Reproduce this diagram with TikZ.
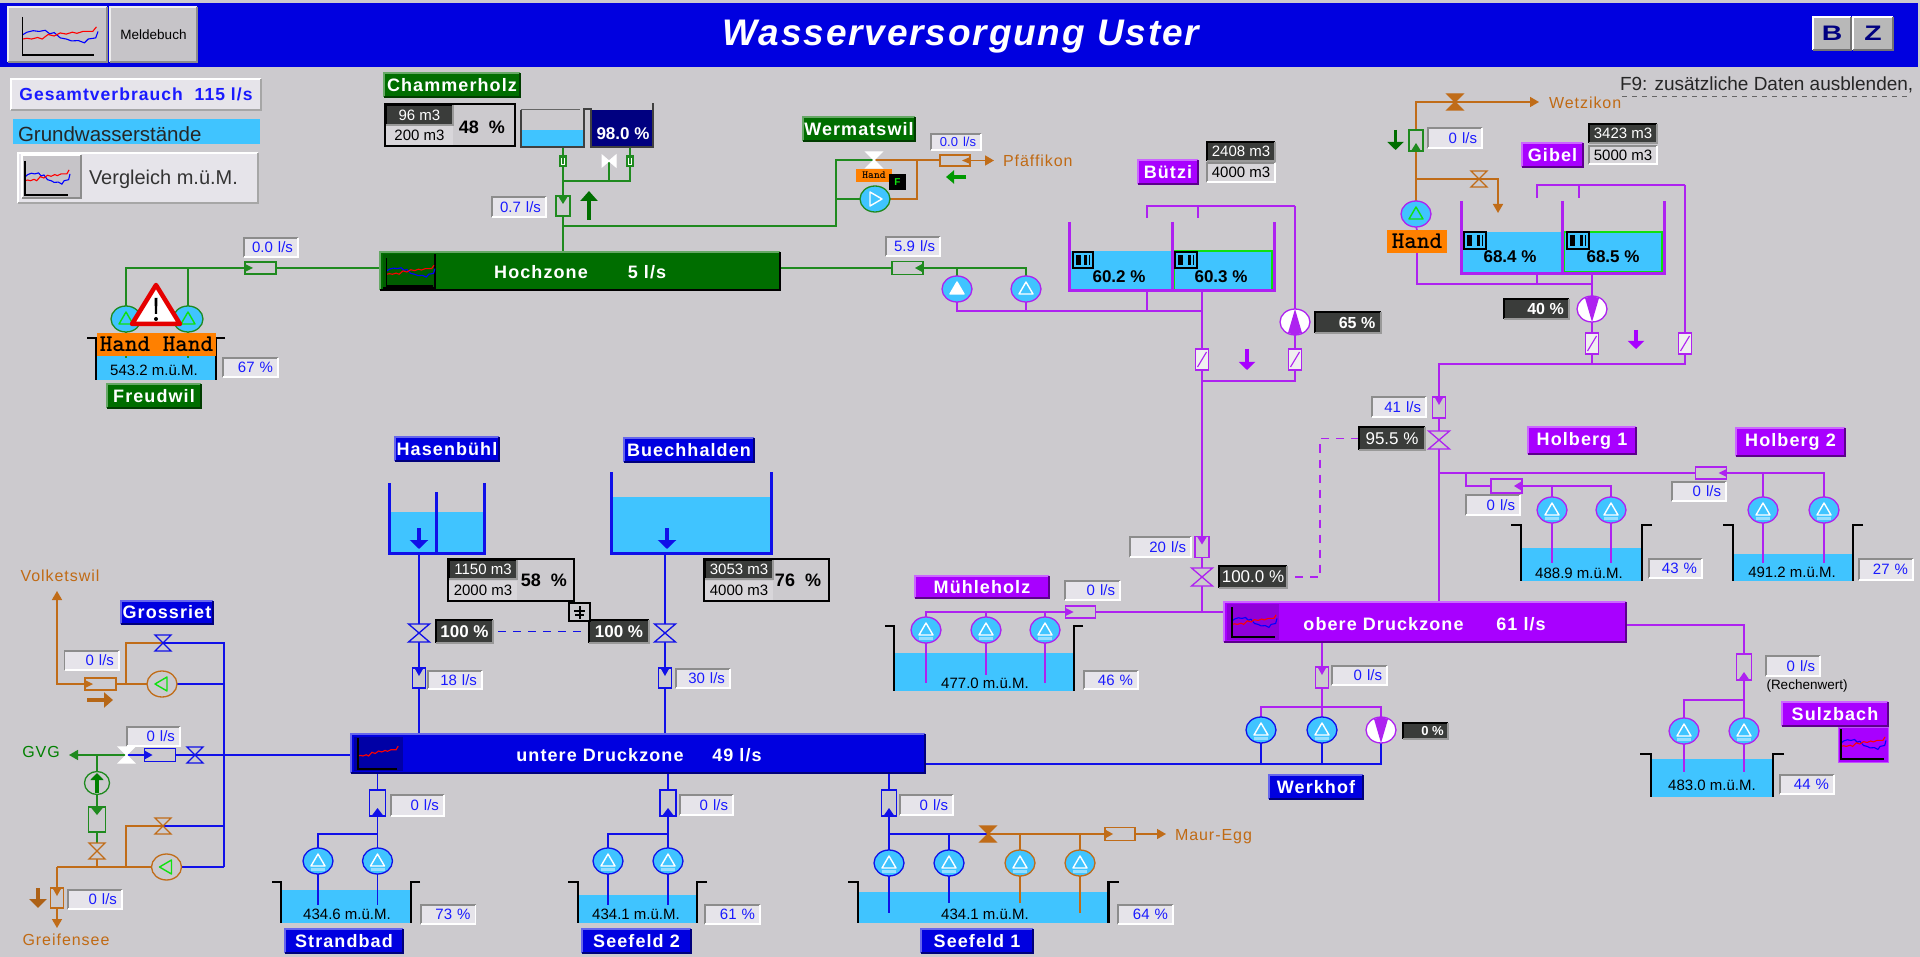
\documentclass[tikz,border=0pt]{standalone}
\usepackage{fontspec}
\usepackage{graphicx}
\setmainfont{Liberation Sans}
\newfontfamily\lspaced[LetterSpace=6]{Liberation Sans}
\newfontfamily\titlef[LetterSpace=5]{Liberation Sans}
\usetikzlibrary{shapes.geometric,arrows.meta}
\pgfdeclarelayer{water}\pgfdeclarelayer{pipes}
\pgfsetlayers{water,pipes,main}
\definecolor{bgc}{HTML}{CCCACE}
\definecolor{hblue}{HTML}{0000E0}
\definecolor{hgreen}{HTML}{006E00}
\definecolor{hpurple}{HTML}{A800FF}
\definecolor{gpipe}{HTML}{1F8A1F}
\definecolor{ppipe}{HTML}{AE22F0}
\definecolor{bpipe}{HTML}{1010E8}
\definecolor{opipe}{HTML}{C06C18}
\definecolor{wat}{HTML}{40C4FF}
\definecolor{darkb}{HTML}{3A3C3A}
\definecolor{litem}{HTML}{E6E4EA}
\definecolor{softm}{HTML}{D8D6DA}
\definecolor{vblue}{HTML}{1A1AFF}
\definecolor{navyc}{HTML}{000080}
\definecolor{oran}{HTML}{FF8000}
\definecolor{btn}{HTML}{C6C4C8}
\definecolor{limeb}{HTML}{10E010}
\definecolor{brtxt}{HTML}{C06A14}
\newcommand\fz[1]{\fontsize{#1pt}{#1pt}\selectfont}
\tikzset{
 base/.style={rectangle,inner sep=0pt,outer sep=0pt,align=center},
 txt/.style={inner sep=0pt,outer sep=0pt},
 pipeln/.style={line width=1.6pt,line join=miter},
 pg/.style={pipeln,draw=gpipe},
 pp/.style={pipeln,draw=ppipe},
 pb/.style={pipeln,draw=bpipe},
 po/.style={pipeln,draw=opipe},
 tipo/.style={-{Triangle[length=9pt,width=10pt]}},
 tankt/.style={txt,font=\fz{15},text=black},
 pct/.style={txt,font=\bfseries\fz{17},text=black},
 barlab/.style={txt,font=\lspaced\bfseries\fz{18},text=white},
 brown/.style={txt,font=\lspaced\fz{16},text=brtxt},
 handf/.style={font=\ttfamily\bfseries\fz{24},text=black},
 blockarrow/.style={line width=4.5pt,-{Triangle[length=10pt,width=17pt]}},
}
% name x1 y1 x2 y2 opts text
\newcommand\mkbox[7]{%
 \pgfmathsetmacro\mkw{#4-#2}\pgfmathsetmacro\mkh{#5-#3}%
 \node[base,#6,minimum width=\mkw pt,minimum height=\mkh pt] (#1) at ({(#2+#4)/2},{(#3+#5)/2}) {#7};}
\newcommand\bev[3]{%
 \draw[line width=1.2pt,#2] (#1.south west) |- (#1.north east);
 \draw[line width=1.2pt,#3] (#1.south west) -| (#1.north east);}
% value box (blue text, right aligned)
\newcommand\mkval[6]{%
 \pgfmathsetmacro\mkt{#4-#2-10}\pgfmathsetmacro\mkh{#5-#3}%
 \node[rectangle,outer sep=0pt,inner ysep=0pt,inner xsep=5pt,fill=litem,text=vblue,font=\fz{15},align=right,text width=\mkt pt,minimum height=\mkh pt] (#1) at ({(#2+#4)/2},{(#3+#5)/2}) {#6};
 \bev{#1}{draw=black!45}{draw=white}}
% label
\newcommand\labt[8]{%
 \mkbox{#1}{#2}{#3}{#4}{#5}{fill=#6,text=white,font=\lspaced\bfseries\fz{18}}{#7}
 \bev{#1}{draw=#6!60!white}{draw=#6!55!black}}
% dark box
\newcommand\mkdark[7]{%
 \mkbox{#1}{#2}{#3}{#4}{#5}{fill=darkb,text=white,#6}{#7}
 \bev{#1}{draw=black}{draw=black!40}}
% pump: name x y outline fill tridraw trifill rot
\newcommand\mkpump[8]{%
 \node[ellipse,draw=#4,fill=#5,line width=1.3pt,minimum width=30pt,minimum height=26pt,inner sep=0pt,outer sep=0pt] (#1) at (#2,#3) {};
 \begin{scope}[shift={(#2,#3)},rotate=#8]
 \draw[#6,fill=#7,line width=1.4pt,line join=round] (-7,5) -- (0,-7) -- (7,5) -- cycle;
 \end{scope}}
\newcommand\cpump[4]{\mkpump{#1}{#2}{#3}{#4}{wat}{white}{wat}{0}
 \draw[white!45!wat,line width=2.2pt] ({#2-7},{#3+8.5}) -- ({#2+7},{#3+8.5});}
\newcommand\vfd[5]{%
 \node[ellipse,draw=#4,fill=white,line width=1.3pt,minimum width=30pt,minimum height=26pt,inner sep=0pt,outer sep=0pt] (#1) at (#2,#3) {};
 \begin{scope}[shift={(#2,#3)},rotate=#5]
 \fill[#4] (-7,11) -- (0,-13) -- (7,11) -- (0,13) -- cycle;
 \end{scope}}
% valve: name x y stroke fill
\newcommand\mkvalve[5]{%
 \coordinate (#1) at (#2,#3);
 \begin{scope}[shift={(#2,#3)}]
 \draw[#4,fill=#5,line width=1.3pt,line join=miter] (-8,-8) -- (8,-8) -- (-8,8) -- (8,8) -- cycle;
 \end{scope}}
\newcommand\bigvalve[5]{%
 \coordinate (#1) at (#2,#3);
 \begin{scope}[shift={(#2,#3)}]
 \draw[#4,fill=#5,line width=1.3pt,line join=miter] (-10.5,-9) -- (10.5,-9) -- (-10.5,9) -- (10.5,9) -- cycle;
 \end{scope}}
% flow meter tips
\newcommand\tipL[2]{\fill[#2] ([yshift=-2pt]#1.north west) -- ([xshift=8pt]#1.west) -- ([yshift=2pt]#1.south west) -- cycle;}
\newcommand\tipR[2]{\fill[#2] ([yshift=-2pt]#1.north east) -- ([xshift=-8pt]#1.east) -- ([yshift=2pt]#1.south east) -- cycle;}
\newcommand\tipT[2]{\fill[#2] ([xshift=2pt]#1.north west) -- ([yshift=-8pt]#1.north) -- ([xshift=-2pt]#1.north east) -- cycle;}
\newcommand\tipB[2]{\fill[#2] ([xshift=2pt]#1.south west) -- ([yshift=8pt]#1.south) -- ([xshift=-2pt]#1.south east) -- cycle;}
\newcommand\tipS[2]{\fill[white!70!bgc] (#1.north west) rectangle (#1.south east);\draw[#2,line width=1.2pt] (#1.north west) rectangle (#1.south east);\draw[#2,line width=1.1pt] ([xshift=2pt,yshift=3pt]#1.south west) -- ([xshift=-2pt,yshift=-3pt]#1.north east);}
\newcommand\tipG[2]{\fill[#2] (#1.north west) rectangle (#1.south east);\draw[white,line width=.8pt] ([xshift=-1.5pt,yshift=-2pt]#1.north) -- ([xshift=-1.5pt,yshift=2pt]#1.south) -- ([xshift=1.5pt,yshift=2pt]#1.south) -- ([xshift=1.5pt,yshift=-2pt]#1.north);}
% name cx cy w h col tip
\newcommand\mkfm[7]{%
 \node[rectangle,draw=#6,fill=bgc,line width=1.3pt,minimum width=#4pt,minimum height=#5pt,inner sep=0pt,outer sep=0pt] (#1) at (#2,#3) {};
 \csname tip#7\endcsname{#1}{#6}}
% well tank: name xL xR yTop yBot yWater hook
\newcommand\mktank[7]{%
 \begin{pgfonlayer}{water}
 \fill[wat] (#2,#6) rectangle (#3,#5);
 \end{pgfonlayer}
 \coordinate (#1) at ({(#2+#3)/2},#5);
 \draw[black,line width=2.8pt,line join=miter] ({#2-#7},#4) -- (#2,#4) -- (#2,#5);
 \draw[black,line width=2.8pt,line join=miter] ({#3+#7},#4) -- (#3,#4) -- (#3,#5);}
% chart inside rectangle
\newcommand\mkchart[5]{%
 \pgfmathsetmacro\chw{#3-#1}\pgfmathsetmacro\chh{#4-#2}%
 \begin{scope}[shift={(#1,#2)},x=\chw pt,y=-\chh pt]
 \ifnum#5=1
 \draw[blue,line width=1.1pt] (0,.47) -- (.06,.40) -- (.14,.36) -- (.22,.38) -- (.3,.35) -- (.36,.44) -- (.42,.41) -- (.5,.55) -- (.58,.58) -- (.65,.63) -- (.74,.62) -- (.82,.68) -- (.87,.58) -- (.97,.55) -- (1,.38);
 \fi
 \draw[red,line width=1.1pt] (0,.58) -- (.06,.56) -- (.12,.58) -- (.2,.54) -- (.26,.58) -- (.34,.46) -- (.42,.50) -- (.5,.42) -- (.58,.45) -- (.66,.40) -- (.72,.43) -- (.8,.38) -- (.93,.38) -- (.98,.26);
 \draw[black,line width=1.3pt] (0,0) -- (0,1) -- (.95,1);
 \end{scope}}
% small level icon
\newcommand\mkicon[5]{%
 \mkbox{#1}{#2}{#3}{#4}{#5}{draw=black,line width=1.1pt,fill=wat}{}
 \fill[black] ([xshift=3pt,yshift=-3pt]#1.north west) rectangle ([xshift=8pt,yshift=3pt]#1.south west);
 \fill[black] ([xshift=-9pt,yshift=-3pt]#1.north east) rectangle ([xshift=-6pt,yshift=3pt]#1.south east);
 \fill[black] ([xshift=-4.5pt,yshift=-3pt]#1.north east) rectangle ([xshift=-3pt,yshift=3pt]#1.south east);}
\begin{document}
\begin{tikzpicture}[x=1pt,y=-1pt]
\useasboundingbox (0,0) rectangle (1920,957);
\begin{pgfonlayer}{water}
\fill[bgc] (0,0) rectangle (1920,957);
\end{pgfonlayer}
% ---------- header
\mkbox{hdr}{0}{3}{1918}{67}{fill=hblue}{}
\node[txt,text=white,font=\titlef\bfseries\itshape\fz{37}] (title) at (961,37) {Wasserversorgung Uster};
\mkbox{btnA}{8}{7}{107}{62}{fill=btn}{}
\bev{btnA}{draw=white!70!btn}{draw=black!45}
\mkchart{22.5}{17}{98}{55}{1}
\mkbox{btnB}{110}{7}{197}{62}{fill=btn,font=\fz{13.5}}{Meldebuch}
\bev{btnB}{draw=white!70!btn}{draw=black!45}
\mkbox{btnC}{1813}{17}{1851}{50}{fill=black!28!white,text=navyc,font=\bfseries\fz{21}}{\scalebox{1.35}[1]{B}}
\bev{btnC}{draw=white}{draw=black!55}
\mkbox{btnD}{1853}{17}{1893}{50}{fill=black!28!white,text=navyc,font=\bfseries\fz{21}}{\scalebox{1.35}[1]{Z}}
\bev{btnD}{draw=white}{draw=black!55}
\node[txt,anchor=west,font=\fz{19},text=black!85] (f9) at (1620,85) {F9: zusätzliche Daten ausblenden,};
\draw[black!60,line width=.8pt,dash pattern=on 5pt off 5pt] (1622,96) -- (1910,96);
% ---------- left panel
\mkbox{gesamt}{11}{79}{261}{110}{fill=litem,text=vblue,font=\lspaced\bfseries\fz{17.5}}{Gesamtverbrauch\ \ 115 l/s}
\bev{gesamt}{draw=white}{draw=black!35}
\mkbox{grund}{13}{119}{260}{144}{fill=wat}{}
\node[txt,anchor=west,font=\fz{20.5},text=black!85] (grundt) at (18,134) {Grundwasserstände};
\mkbox{vergl}{18}{153}{258}{203}{fill=litem}{}
\bev{vergl}{draw=white}{draw=black!35}
\mkbox{verglb}{22}{155}{81}{198}{fill=btn}{}
\bev{verglb}{draw=white}{draw=black!45}
\mkchart{25}{161}{70}{195}{1}
\node[txt,anchor=west,font=\fz{20},text=black!80] (verglt) at (89,179) {Vergleich m.ü.M.};
% ---------- Hochzone bar
\mkbox{hoch}{380}{252}{780}{290}{fill=hgreen}{}
\bev{hoch}{draw=hgreen!60!white}{draw=black}
\mkbox{hochic}{383}{254}{435}{288}{fill=hgreen!85!black}{}
\draw[black,line width=1.2pt] (hochic.south west) -| (hochic.north east);
\mkchart{386.5}{258}{435}{286}{1}
\node[barlab] (hocht) at (541,272) {Hochzone};
\node[barlab] (hochq) at (647,272) {5 l/s};
% ---------- Freudwil
\mkfm{fmFr}{260.5}{268}{31}{12}{gpipe}{L}
\mkval{vFr}{244}{238}{298}{257}{0.0 l/s}
\mkpump{frP1}{126}{319}{gpipe}{wat}{limeb}{wat}{0}
\mkpump{frP2}{188}{319}{gpipe}{wat}{limeb}{wat}{0}
\draw[red!90!black,fill=white,line width=4.5pt,line join=round] (156,285) -- (132,324) -- (180,324) -- cycle;
\fill[black] (154.5,298) -- (157.5,298) -- (157,314) -- (155,314) -- cycle;
\fill[black] (156,319) circle[radius=2];
\mktank{tFr}{96}{216}{338}{380}{356}{9}
\mkbox{frHand}{97}{333}{216}{356}{fill=oran,handf}{Hand Hand}
\node[tankt] (frT) at (154,370) {543.2 m.ü.M.};
\mkval{vFrP}{223}{358}{278}{377}{67 \%}
\labt{frL}{107}{384}{201}{408}{hgreen}{Freudwil}{}
\coordinate (frE) at (0,358);
% ---------- Chammerholz
\labt{chL}{384}{73}{520}{97}{hgreen}{Chammerholz}{}
\mkbox{chI}{385}{104}{515}{146}{draw=black,line width=1.2pt}{}
\mkdark{chI1}{386}{105}{453}{125}{font=\fz{15}}{96 m3}
\mkbox{chI2}{386}{126}{453}{145}{fill=softm,font=\fz{15}}{200 m3}
\node[txt,font=\bfseries\fz{18}] (chP) at (482,127) {48\ \ \%};
\begin{pgfonlayer}{water}
\fill[wat] (521,130) rectangle (583,147);
\end{pgfonlayer}
\fill[navyc] (591,110) rectangle (653,147);
\draw[black!75,line width=1.5pt] (521,110) -- (521,147) -- (584,147) -- (584,109) -- (591,109) -- (591,147) -- (653,147) -- (653,103);
\draw[black!60,line width=1pt] (521,110) -- (580,110);
\node[txt,text=white,font=\bfseries\fz{17}] (chT2) at (623,134) {98.0 \%};
\coordinate (cmT1) at (563,147);
\coordinate (cmT2) at (630,147);
\coordinate (cmJ) at (563,181);
\coordinate (wJ) at (563,226);
\mkfm{cmA}{563}{161}{7}{10}{gpipe}{G}
\mkfm{cmB}{630}{161}{7}{10}{gpipe}{G}
\coordinate (cmV) at (609,161);
\draw[white,fill=white,line width=1pt] (602,155) -- (602,167) -- (616,155) -- (616,167) -- cycle;
\mkfm{cmF}{563}{206}{14}{20}{gpipe}{T}
\mkval{vCh}{492}{197}{546}{217}{0.7 l/s}
\draw[blockarrow,hgreen] (589,220) -- (589,191);
% ---------- Wermatswil
\labt{weL}{803}{117}{915}{141}{hgreen}{Wermatswil}{}
\coordinate (wmC) at (836,160);
\coordinate (wmO) at (917,160);
\mkvalve{wmV}{874}{160}{white}{white}
\mkpump{wmP}{875}{199}{gpipe}{wat}{white}{wat}{-90}
\mkbox{wmH}{856}{169}{892}{182}{fill=oran,font=\ttfamily\bfseries\fz{11},text=black}{Hand}
\mkbox{wmF}{889}{174}{906}{190}{fill=black,text=limeb,font=\bfseries\fz{10}}{F}
\mkfm{fmW}{955}{160.5}{30}{11}{opipe}{R}
\coordinate (wEnd) at (994,160.5);
\mkval{vWe}{931}{134}{981}{150}{\fz{13}0.0 l/s}
\node[brown,anchor=west] (pfaf) at (1003,161) {Pfäffikon};
\draw[blockarrow,line width=3.5pt,-{Triangle[length=8pt,width=13pt]},green!60!black] (966,177) -- (946,177);
% ---------- Buetzi
\mkfm{fmH}{907.5}{268}{31}{13}{gpipe}{R}
\mkval{vH}{886}{237}{940}{256}{5.9 l/s}
\mkpump{bzP1}{957}{289}{ppipe}{wat}{white}{white}{0}
\mkpump{bzP2}{1026}{289}{ppipe}{wat}{white}{wat}{0}
\labt{bzL}{1138}{160}{1198}{184}{hpurple}{Bützi}{}
\mkdark{bzD}{1207}{142}{1275}{161}{font=\fz{15}}{2408 m3}
\mkbox{bzC}{1207}{163}{1275}{182}{fill=softm,font=\fz{15}}{4000 m3}
\bev{bzC}{draw=black!45}{draw=white}
\begin{pgfonlayer}{water}
\fill[wat] (1069,251) rectangle (1274,291);
\end{pgfonlayer}
\draw[limeb,line width=1.8pt] (1174,289) -- (1174,251) -- (1272,251) -- (1272,289);
\draw[ppipe,line width=3pt] (1069,222) -- (1069,291) -- (1274,291) -- (1274,222);
\draw[ppipe,line width=3pt] (1172,222) -- (1172,291);
\mkicon{bzI1}{1073}{252}{1093}{268}
\mkicon{bzI2}{1175}{252}{1197}{268}
\node[pct] (bzT1) at (1119,277) {60.2 \%};
\node[pct] (bzT2) at (1221,277) {60.3 \%};
\coordinate (bzJ) at (1202,311);
\coordinate (bzB) at (1202,291);
\coordinate (bzTk) at (1147,291);
\coordinate (bzU1) at (1147,218);
\coordinate (bzU2) at (1198,218);
\coordinate (bzUC) at (1295,206);
\vfd{bzV}{1295}{322}{ppipe}{0}
\mkdark{d65}{1315}{312}{1381}{333}{font=\bfseries\fz{16}}{\hspace*{18pt}65 \%}
\mkfm{bzF1}{1202}{359.5}{13}{21}{ppipe}{S}
\mkfm{bzF2}{1295}{359.5}{13}{21}{ppipe}{S}
\coordinate (bzJ2) at (1295,381);
\coordinate (bzJ3) at (1202,381);
\draw[blockarrow,line width=3.5pt,-{Triangle[length=8pt,width=16pt]},hpurple] (1247,349) -- (1247,370);
% ---------- Gibel
\coordinate (gbC) at (1416,102);
\coordinate (gbE) at (1539,102);
\mkvalve{gbV1}{1455}{102}{opipe}{opipe}
\node[brown,anchor=west] (wetzi) at (1549,103) {Wetzikon};
\mkfm{gbFm}{1416}{140.5}{14}{21}{gpipe}{B}
\draw[blockarrow,line width=3.5pt,-{Triangle[length=8pt,width=16pt]},hgreen] (1395.5,130) -- (1395.5,150);
\mkval{vGb}{1428}{128}{1482}{148}{0 l/s}
\coordinate (gbB) at (1416,179);
\coordinate (gbE2) at (1498,213);
\mkvalve{gbV2}{1479}{179}{opipe}{bgc}
\mkpump{gbP}{1416}{214}{ppipe}{wat}{limeb}{wat}{0}
\mkbox{gbH}{1387}{230}{1447}{253}{fill=oran,handf}{Hand}
\labt{gbL}{1522}{143}{1583}{167}{hpurple}{Gibel}{}
\mkdark{gbD}{1589}{124}{1657}{143}{font=\fz{15}}{3423 m3}
\mkbox{gbK}{1589}{146}{1657}{164}{fill=softm,font=\fz{15}}{5000 m3}
\bev{gbK}{draw=black!45}{draw=white}
\begin{pgfonlayer}{water}
\fill[wat] (1461,232) rectangle (1664,274);
\end{pgfonlayer}
\draw[limeb,line width=1.8pt] (1564,272) -- (1564,232) -- (1662,232) -- (1662,272) -- cycle;
\draw[ppipe,line width=3pt] (1461,201) -- (1461,274) -- (1664,274) -- (1664,201);
\draw[ppipe,line width=3pt] (1562,201) -- (1562,274);
\mkicon{gbI1}{1464}{232}{1486}{249}
\mkicon{gbI2}{1567}{232}{1589}{249}
\node[pct] (gbT1) at (1510,257) {68.4 \%};
\node[pct] (gbT2) at (1613,257) {68.5 \%};
\coordinate (gbJ) at (1592,284);
\coordinate (gbTk) at (1537,274);
\coordinate (gbBt) at (1592,274);
\vfd{gbVf}{1592}{309}{ppipe}{180}
\mkdark{d40}{1504}{299}{1569}{319}{font=\bfseries\fz{16}}{\hspace*{18pt}40 \%}
\mkfm{gbF1}{1592}{343.5}{13}{21}{ppipe}{S}
\mkfm{gbF2}{1685}{343.5}{13}{21}{ppipe}{S}
\coordinate (gbU1) at (1537,198);
\coordinate (gbU2) at (1579,198);
\coordinate (gbUC) at (1685,185);
\coordinate (gbJ2) at (1592,364);
\coordinate (gbJ3) at (1685,364);
\coordinate (gbJ4) at (1439,364);
\draw[blockarrow,line width=3.5pt,-{Triangle[length=8pt,width=16pt]},hpurple] (1636,330) -- (1636,349);
\mkfm{gbF3}{1439}{407.5}{13}{21}{ppipe}{T}
\mkval{v41}{1372}{397}{1426}{417}{41 l/s}
\bigvalve{gbV3}{1439}{440}{ppipe}{bgc}
\mkdark{d955}{1359}{427}{1425}{450}{font=\fz{17}}{95.5 \%}
% ---------- Holberg
\labt{h1L}{1528}{427}{1636}{454}{hpurple}{Holberg 1}{}
\labt{h2L}{1736}{428}{1845}{456}{hpurple}{Holberg 2}{}
\coordinate (hoJ) at (1439,473);
\coordinate (hoK) at (1466,473);
\mkfm{fmH2}{1711}{473}{31}{12}{ppipe}{R}
\mkfm{fmH1}{1506.5}{486}{31}{14}{ppipe}{R}
\mkval{vH1}{1466}{495}{1520}{515}{0 l/s}
\mkval{vH2}{1672}{482}{1726}{501}{0 l/s}
\cpump{hoP1}{1552}{510}{ppipe}
\cpump{hoP2}{1611}{510}{ppipe}
\cpump{hoP3}{1763}{510}{ppipe}
\cpump{hoP4}{1824}{510}{ppipe}
\mktank{tH1}{1521}{1642}{525}{581}{548}{10}
\mktank{tH2}{1733}{1853}{525}{581}{554}{10}
\coordinate (hoE) at (0,563);
\node[tankt] (tH1t) at (1579,573) {488.9 m.ü.M.};
\node[tankt] (tH2t) at (1792,572) {491.2 m.ü.M.};
\mkval{vH1p}{1649}{559}{1702}{578}{43 \%}
\mkval{vH2p}{1859}{559}{1913}{580}{27 \%}
% ---------- obere Druckzone
\mkbox{dru}{1224}{602}{1626}{642}{fill=hpurple}{}
\bev{dru}{draw=hpurple!60!white}{draw=hpurple!55!black}
\mkbox{druic}{1227}{604}{1279}{640}{fill=hpurple!85!black}{}
\mkchart{1232}{607}{1277}{637}{1}
\node[barlab] (drut) at (1383.5,624) {obere Druckzone};
\node[barlab] (druq) at (1521,624) {61 l/s};
\coordinate (druT) at (1439,602);
\coordinate (druJ) at (1202,612);
\coordinate (druR) at (1626,625);
\coordinate (druB) at (1322,642);
\mkfm{fmD}{1202}{547}{14}{21}{ppipe}{T}
\mkval{v20}{1130}{537}{1191}{557}{20 l/s}
\bigvalve{vDru}{1202}{577}{ppipe}{bgc}
\mkdark{d100}{1219}{566}{1287}{588}{font=\fz{17}}{100.0 \%}
\coordinate (dC) at (1320,577);
% ---------- Muehleholz
\labt{muL}{915}{576}{1049}{598}{hpurple}{Mühleholz}{}
\mkval{vMu}{1065}{581}{1120}{600}{0 l/s}
\mkfm{fmMu}{1080.5}{612}{30}{12}{ppipe}{L}
\cpump{muP1}{926}{630}{ppipe}
\cpump{muP2}{986}{630}{ppipe}
\cpump{muP3}{1045}{630}{ppipe}
\mktank{tMu}{894}{1074}{626}{691}{653}{9}
\coordinate (muE1) at (0,683);
\coordinate (muE2) at (0,675);
\node[tankt] (muT) at (985,683) {477.0 m.ü.M.};
\mkval{vMuP}{1084}{671}{1138}{689}{46 \%}
% ---------- Werkhof
\mkfm{fmWk}{1322}{677.5}{13}{21}{ppipe}{T}
\mkval{vWk}{1332}{666}{1387}{685}{0 l/s}
\coordinate (wkJ) at (1322,707);
\cpump{wkP1}{1261}{730}{bpipe}
\cpump{wkP2}{1322}{730}{bpipe}
\vfd{wkP3}{1381}{730}{ppipe}{180}
\mkdark{d0}{1403}{723}{1448}{739}{font=\bfseries\fz{13}}{\hspace*{14pt}0 \%}
\labt{wkL}{1269}{775}{1363}{799}{hblue}{Werkhof}{}
% ---------- Sulzbach
\mkfm{fmS}{1744}{667}{15}{26}{ppipe}{B}
\mkval{vS}{1766}{656}{1820}{676}{0 l/s}
\node[txt,font=\fz{13.5}] (rech) at (1807,686) {(Rechenwert)};
\coordinate (suJ) at (1744,700);
\cpump{suP1}{1684}{731}{ppipe}
\cpump{suP2}{1744}{731}{ppipe}
\mktank{tS}{1651}{1773}{754}{797}{759}{11}
\coordinate (suE) at (0,772);
\node[tankt] (sut) at (1712,785) {483.0 m.ü.M.};
\mkval{vSp}{1780}{775}{1834}{794}{44 \%}
\labt{suL}{1782}{702}{1888}{726}{hpurple}{Sulzbach}{}
\mkbox{suIc}{1838}{727}{1888}{762}{fill=hpurple,draw=hpurple!70!white}{}
\mkchart{1841}{729}{1886}{759}{1}
% ---------- untere Druckzone
\mkbox{unt}{351}{734}{925}{773}{fill=hblue}{}
\bev{unt}{draw=hblue!60!white}{draw=hblue!55!black}
\mkbox{untic}{354}{737}{403}{771}{fill=navyc!60!hblue}{}
\mkchart{358}{738}{399}{769}{0}
\node[barlab] (untt) at (600,755) {untere Druckzone};
\node[barlab] (untq) at (737,755) {49 l/s};
\coordinate (untR) at (925,764);
\coordinate (untW) at (351,755);
% ---------- Hasenbuehl, Buechhalden
\labt{haL}{395}{437}{499}{461}{hblue}{Hasenbühl}{}
\labt{buL}{624}{438}{754}{462}{hblue}{Buechhalden}{}
\begin{pgfonlayer}{water}
\fill[wat] (389,512) rectangle (484,553);
\fill[wat] (611,497) rectangle (771,553);
\end{pgfonlayer}
\draw[bpipe,line width=3pt] (389,483) -- (389,553) -- (484,553) -- (484,483);
\draw[bpipe,line width=3pt] (436,492) -- (436,553);
\draw[bpipe,line width=3pt] (611,472) -- (611,553) -- (771,553) -- (771,472);
\draw[blockarrow,line width=3.5pt,-{Triangle[length=9pt,width=18pt]},bpipe] (419,528) -- (419,549);
\draw[blockarrow,line width=3.5pt,-{Triangle[length=9pt,width=18pt]},bpipe] (667,528) -- (667,549);
\coordinate (haB) at (419,553);
\coordinate (buB) at (665,553);
\coordinate (haU) at (419,734);
\coordinate (buU) at (665,734);
\bigvalve{haV}{419}{633}{bpipe}{bgc}
\bigvalve{buV}{665}{633}{bpipe}{bgc}
\mkfm{haF}{419}{678}{13}{20}{bpipe}{T}
\mkfm{buF}{665}{678}{13}{20}{bpipe}{T}
\mkval{v18}{428}{671}{482}{689}{18 l/s}
\mkval{v30}{676}{669}{730}{688}{30 l/s}
\mkdark{dH}{436}{620}{493}{643}{font=\bfseries\fz{17}}{100 \%}
\mkdark{dB}{589}{620}{649}{643}{font=\bfseries\fz{17}}{100 \%}
\mkbox{cIc}{569}{603}{590}{621}{draw=black,line width=1.1pt,fill=bgc}{}
\fill[black] (578.5,606) rectangle (580.5,619);
\fill[black] (574,610) rectangle (585,612);
\fill[black] (575,614) rectangle (584,616);
% info boxes
\mkbox{haI}{448}{559}{574}{601}{draw=black,line width=1.2pt}{}
\mkdark{haI1}{449}{560}{517}{579}{font=\fz{15}}{1150 m3}
\mkbox{haI2}{449}{581}{517}{600}{fill=softm,font=\fz{15}}{2000 m3}
\node[txt,font=\bfseries\fz{18}] (haP) at (544,580) {58\ \ \%};
\mkbox{buI}{704}{559}{829}{601}{draw=black,line width=1.2pt}{}
\mkdark{buI1}{705}{560}{773}{579}{font=\fz{15}}{3053 m3}
\mkbox{buI2}{705}{581}{773}{600}{fill=softm,font=\fz{15}}{4000 m3}
\node[txt,font=\bfseries\fz{18}] (buP) at (798,580) {76\ \ \%};
% ---------- Strandbad
\coordinate (stT) at (377.5,773);
\coordinate (stJ) at (377.5,834);
\mkfm{stF}{377.5}{803}{16}{26}{bpipe}{B}
\mkval{vSt}{391}{795}{444}{816}{0 l/s}
\cpump{stP1}{318}{861}{bpipe}
\cpump{stP2}{377.5}{861}{bpipe}
\mktank{tSt}{281}{411}{882}{923}{890}{9}
\coordinate (stE) at (0,905);
\node[tankt] (stt) at (347,914) {434.6 m.ü.M.};
\mkval{vStP}{421}{905}{475.5}{924}{73 \%}
\labt{stL}{285}{929}{403}{953}{hblue}{Strandbad}{}
% ---------- Seefeld 2
\coordinate (s2T) at (668,773);
\coordinate (s2J) at (668,834);
\mkfm{s2F}{668}{803}{16}{26}{bpipe}{B}
\mkval{vS2}{680}{795}{733}{815}{0 l/s}
\cpump{s2P1}{608}{861}{bpipe}
\cpump{s2P2}{668}{861}{bpipe}
\mktank{tS2}{578}{697}{882}{923}{895}{10}
\node[tankt] (s2t) at (636,914) {434.1 m.ü.M.};
\mkval{vS2P}{705}{905}{760}{924}{61 \%}
\labt{s2L}{582}{929}{691}{953}{hblue}{Seefeld 2}{}
% ---------- Seefeld 1
\coordinate (s1T) at (889,773);
\coordinate (s1J) at (889,834);
\mkfm{s1F}{889}{803}{15}{26}{bpipe}{B}
\mkval{vS1}{900}{795}{953}{815}{0 l/s}
\mkvalve{s1V}{988}{834}{opipe}{opipe}
\mkfm{fmM}{1120}{834}{30}{13}{opipe}{L}
\coordinate (mEnd) at (1166,834);
\node[brown,anchor=west] (maur) at (1175,837) {Maur-Egg};
\cpump{s1P1}{889}{863}{bpipe}
\cpump{s1P2}{949}{863}{bpipe}
\cpump{s1P3}{1020}{863}{opipe}
\cpump{s1P4}{1080}{863}{opipe}
\mktank{tS1}{858}{1108.5}{882}{923}{892}{10}
\coordinate (s1E1) at (0,913);
\coordinate (s1E2) at (0,903);
\node[tankt] (s1t) at (985,914) {434.1 m.ü.M.};
\mkval{vS1P}{1118}{905}{1173}{924}{64 \%}
\labt{s1L}{921}{929}{1033}{953}{hblue}{Seefeld 1}{}
% ---------- Grossriet
\labt{grL}{121}{601}{213}{624}{hblue}{Grossriet}{}
\node[brown] (volk) at (60,576) {Volketswil};
\node[txt,font=\lspaced\fz{16},text=green!50!black] (gvg) at (41,752) {GVG};
\node[brown] (greif) at (66,940) {Greifensee};
\coordinate (grUp) at (57,591);
\mkfm{fmV}{100.5}{684}{31}{12}{opipe}{L}
\mkval{vV}{64.5}{651}{119}{670}{0 l/s}
\draw[blockarrow,line width=3.5pt,-{Triangle[length=9pt,width=15pt]},opipe!95!black] (87,700) -- (113,700);
\mkpump{grP1}{162}{684}{opipe}{bgc}{limeb}{bgc}{90}
\mkpump{grP2}{166.5}{867}{opipe}{bgc}{limeb}{bgc}{90}
\coordinate (grT1) at (126,684);
\mkvalve{grV1}{163}{643}{bpipe}{bgc}
\coordinate (grTop) at (224,643);
\coordinate (grMid) at (224,684);
\coordinate (grBot) at (224,867);
\coordinate (grT2) at (126,867);
\mkvalve{grV2}{163}{826}{opipe}{bgc}
\coordinate (grMid2) at (224,826);
\coordinate (grLf) at (57,867);
\mkfm{fmG}{160}{755}{31}{13}{bpipe}{L}
\mkval{vG}{127}{727}{180}{746}{0 l/s}
\mkvalve{gvV}{126.5}{755}{white}{white}
\mkvalve{gvV2}{195}{755}{bpipe}{bgc}
\coordinate (gvE) at (69,755);
\coordinate (gvT) at (97,755);
\node[ellipse,draw=gpipe,line width=1.3pt,minimum width=25pt,minimum height=23pt,inner sep=0pt,outer sep=0pt,fill=bgc] (gvC) at (97,783) {};
\draw[blockarrow,line width=3.5pt,-{Triangle[length=7pt,width=13pt]},green!50!black] (97,793) -- (97,773);
\mkfm{fmGr}{97}{819.5}{17}{25}{gpipe}{T}
\mkvalve{gvV3}{97}{851}{opipe}{bgc}
\coordinate (gvB) at (97,867);
\mkfm{fmGe}{57}{898}{13}{20}{opipe}{T}
\mkval{vGe}{68}{890}{122}{909}{0 l/s}
\coordinate (geE) at (57,928);
\draw[blockarrow,line width=4pt,-{Triangle[length=9pt,width=17pt]},opipe!90!black] (38,888) -- (38,908);
% ---------- pipes
\begin{pgfonlayer}{pipes}
% green
\draw[pg] (frP1.north) |- (fmFr.west);
\draw[pg] (frP2.north) |- (fmFr.west);
\draw[pg] (fmFr.east) -- (fmFr.east -| hoch.west);
\draw[pg] (frP1.south) -- (frP1.south |- frE);
\draw[pg] (frP2.south) -- (frP2.south |- frE);
\draw[pg] (cmT1) -- (cmT1 |- hoch.north);
\draw[pg] (cmT2) |- (cmJ);
\draw[pg] (cmV) -- (cmV |- cmJ);
\draw[pg] (wJ) -| (wmC) -- (wmV);
\draw[pg] (wmP.west) -- (wmP.west -| wmC);
\draw[pg] (fmH.west) -- (fmH.west -| hoch.east);
\draw[pg] (fmH.east) -| (bzP2.north);
\draw[pg] (bzP1.north) -- (bzP1.north |- fmH.east);
% orange Wermatswil
\draw[po] (wmV) -- (fmW.west |- wmV);
\draw[po,tipo] (fmW.east) -- (wEnd);
\draw[po] (wmP.east) -| (wmO);
% purple
\draw[pp] (bzP1.south) |- (bzJ);
\draw[pp] (bzP2.south) -- (bzP2.south |- bzJ);
\draw[pp] (bzTk) -- (bzTk |- bzJ);
\draw[pp] (bzB) -- (fmD.north);
\draw[pp] (fmD.south) -- (vDru);
\draw[pp] (vDru) -- (druJ);
\draw[pp] (fmMu.east) -- (fmMu.east -| dru.west);
\draw[pp] (fmMu.west) -| (muP1.north);
\draw[pp] (muP2.north) -- (muP2.north |- fmMu.west);
\draw[pp] (muP3.north) -- (muP3.north |- fmMu.west);
\draw[pp] (muP1.south) -- (muP1.south |- muE1);
\draw[pp] (muP2.south) -- (muP2.south |- muE2);
\draw[pp] (muP3.south) -- (muP3.south |- muE1);
\draw[pp] (bzU1) |- (bzUC);
\draw[pp] (bzU2) -- (bzU2 |- bzUC);
\draw[pp] (bzUC) -- (bzV.north);
\draw[pp] (bzV.south) -- (bzJ2) -- (bzJ3);
% Gibel
\draw[po,tipo] (gbP.north) -- (gbC) -- (gbE);
\draw[po,tipo] (gbB) -| (gbE2);
\draw[pp] (gbP.south) -- (gbH.north);
\draw[pp] (gbH.south) |- (gbJ);
\draw[pp] (gbTk) -- (gbTk |- gbJ);
\draw[pp] (gbBt) -- (gbVf.north);
\draw[pp] (gbVf.south) -- (gbJ2);
\draw[pp] (gbU1) |- (gbUC);
\draw[pp] (gbU2) -- (gbU2 |- gbUC);
\draw[pp] (gbUC) -- (gbJ3) -- (gbJ4) -- (druT);
\draw[pp] (hoJ) -- (fmH2.west);
\draw[pp] (fmH2.east) -| (hoP4.north);
\draw[pp] (hoP3.north) -- (hoP3.north |- fmH2.east);
\draw[pp] (hoK) |- (fmH1.west);
\draw[pp] (fmH1.east) -| (hoP2.north);
\draw[pp] (hoP1.north) -- (hoP1.north |- fmH1.east);
\draw[pp] (hoP1.south) -- (hoP1.south |- hoE);
\draw[pp] (hoP2.south) -- (hoP2.south |- hoE);
\draw[pp] (hoP3.south) -- (hoP3.south |- hoE);
\draw[pp] (hoP4.south) -- (hoP4.south |- hoE);
\draw[pp,dashed,dash pattern=on 8pt off 7pt] (d955.west) -| (dC) -- (d100.east);
% Sulzbach, Werkhof
\draw[pp] (druR) -| (fmS.north);
\draw[pp] (fmS.south) -- (suP2.north);
\draw[pp] (suJ) -| (suP1.north);
\draw[pp] (suP1.south) -- (suP1.south |- suE);
\draw[pp] (suP2.south) -- (suP2.south |- suE);
\draw[pp] (druB) -- (fmWk.north);
\draw[pp] (fmWk.south) -- (wkP2.north);
\draw[pp] (wkP1.north) |- (wkJ);
\draw[pp] (wkP3.north) |- (wkJ);
\draw[pb] (untR) -| (wkP3.south);
\draw[pb] (wkP1.south) -- (wkP1.south |- untR);
\draw[pb] (wkP2.south) -- (wkP2.south |- untR);
% blue
\draw[pb] (haB) -- (haU);
\draw[pb] (buB) -- (buU);
\draw[pb,dashed,dash pattern=on 8pt off 7pt] (dH.east) ++(5,0) -- (dB.west);
\draw[pb] (stT) -- (stP2.north);
\draw[pb] (stJ) -| (stP1.north);
\draw[pb] (stP1.south) -- (stP1.south |- stE);
\draw[pb] (stP2.south) -- (stP2.south |- stE);
\draw[pb] (s2T) -- (s2P2.north);
\draw[pb] (s2J) -| (s2P1.north);
\draw[pb] (s2P1.south) -- (s2P1.south |- stE);
\draw[pb] (s2P2.south) -- (s2P2.south |- stE);
\draw[pb] (s1T) -- (s1P1.north);
\draw[pb] (s1J) -- (s1V);
\draw[pb] (s1P2.north) -- (s1P2.north |- s1J);
\draw[po] (s1V) -- (fmM.west);
\draw[po,tipo] (fmM.east) -- (mEnd);
\draw[po] (s1P3.north) -- (s1P3.north |- s1J);
\draw[po] (s1P4.north) -- (s1P4.north |- s1J);
\draw[pb] (s1P1.south) -- (s1P1.south |- s1E1);
\draw[pb] (s1P2.south) -- (s1P2.south |- s1E2);
\draw[po] (s1P3.south) -- (s1P3.south |- s1E2);
\draw[po] (s1P4.south) -- (s1P4.south |- s1E1);
% Grossriet
\draw[po,tipo] (fmV.west) -| (grUp);
\draw[po] (fmV.east) -- (grP1.west);
\draw[pb] (grP1.east) -- (grMid);
\draw[po] (grT1) |- (grV1);
\draw[pb] (grV1) -- (grTop) -- (grBot);
\draw[pb] (grP2.east) -- (grBot);
\draw[po] (grLf) -- (grP2.west);
\draw[po] (grT2) |- (grV2);
\draw[pb] (grV2) -- (grMid2);
\draw[pb] (untW) -- (fmG.east);
\draw[pb] (fmG.west) -- (gvV);
\draw[pg,tipo] (gvV) -- (gvE);
\draw[pg] (gvT) -- (gvC.north);
\draw[pg] (gvC.south) -- (fmGr.north);
\draw[pg] (fmGr.south) -- (gvV3);
\draw[po] (gvV3) -- (gvB);
\draw[po,tipo] (grLf) -- (geE);
\end{pgfonlayer}
\end{tikzpicture}
\end{document}
